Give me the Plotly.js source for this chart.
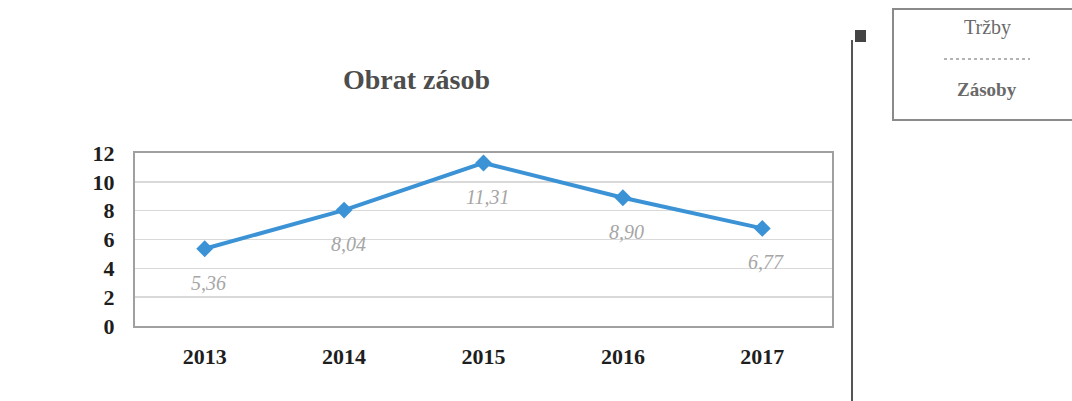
<!DOCTYPE html>
<html>
<head>
<meta charset="utf-8">
<script src="https://cdn.plot.ly/plotly-3.0.1.min.js"></script>
<style>html,body{margin:0;padding:0;background:#fff;}#chart{width:1072px;height:401px;}</style>
</head>
<body>
<div id="chart"></div>
<script>
var years = ['2013', '2014', '2015', '2016', '2017'];
var obratZasob = [5.36, 8.04, 11.31, 8.90, 6.77];
var valueLabels = ['5,36', '8,04', '11,31', '8,90', '6,77'];
var yTicks = [0, 2, 4, 6, 8, 10, 12];
var chartTitle = 'Obrat zásob';
var formulaTop = 'Tržby';
var formulaBottom = 'Zásoby';

var L = 135, R = 240, T = 153, B = 75, W = 1072, H = 401;
var pw = W - L - R, ph = H - T - B;
function px(x) { return (x - L) / pw; }
function py(y) { return (H - B - y) / ph; }

var serif = 'Liberation Serif, DejaVu Serif, serif';

var trace = {
  x: years, y: obratZasob, type: 'scatter', mode: 'lines+markers',
  line: {color: '#3b93d6', width: 4},
  marker: {symbol: 'diamond', size: 13, color: '#3b93d6'},
  hoverinfo: 'skip'
};

var annotations = years.map(function (yr, i) {
  return {
    x: i, y: obratZasob[i], xref: 'x', yref: 'y', text: '<i>' + valueLabels[i] + '</i>',
    showarrow: false, yshift: -34, xshift: 4, xanchor: 'center', yanchor: 'middle',
    font: {family: serif, size: 20, color: '#a6a6a6'}
  };
});

annotations.push({
  xref: 'paper', yref: 'paper', x: px(416), y: py(80), xanchor: 'center', yanchor: 'middle',
  text: '<b>' + chartTitle + '</b>', showarrow: false,
  font: {family: serif, size: 28, color: '#4d4d4d'}
});
annotations.push({
  xref: 'paper', yref: 'paper', x: px(987), y: py(27), xanchor: 'center', yanchor: 'middle',
  text: formulaTop, showarrow: false,
  font: {family: serif, size: 20, color: '#6a6a6a'}
});
annotations.push({
  xref: 'paper', yref: 'paper', x: px(987), y: py(89), xanchor: 'center', yanchor: 'middle',
  text: '<b>' + formulaBottom + '</b>', showarrow: false,
  font: {family: serif, size: 19, color: '#6a6a6a'}
});

var shapes = [
  {type: 'rect', xref: 'paper', yref: 'paper', x0: px(893), x1: px(1080), y0: py(120), y1: py(9),
    line: {color: '#8a8a8a', width: 2}},
  {type: 'line', xref: 'paper', yref: 'paper', x0: px(944), x1: px(1030), y0: py(59), y1: py(59),
    line: {color: '#9a9a9a', width: 1.5, dash: 'dot'}},
  {type: 'line', xref: 'paper', yref: 'paper', x0: px(852), x1: px(852), y0: py(40), y1: py(405),
    line: {color: '#555555', width: 2}},
  {type: 'rect', xref: 'paper', yref: 'paper', x0: px(855), x1: px(866), y0: py(42), y1: py(30),
    line: {width: 0}, fillcolor: '#444444'}
];

var layout = {
  width: W, height: H,
  margin: {l: L, r: R, t: T, b: B},
  paper_bgcolor: '#ffffff', plot_bgcolor: '#ffffff',
  showlegend: false,
  xaxis: {
    type: 'category', range: [-0.5, 4.5],
    showline: true, mirror: true, linecolor: '#a0a0a0', linewidth: 2,
    showgrid: false, ticks: '',
    tickfont: {family: serif, size: 22, color: '#1e1e1e', weight: 'bold'},
    ticklabelstandoff: 10
  },
  yaxis: {
    range: [0, 12], tickvals: yTicks, ticktext: yTicks.map(String),
    showline: true, mirror: true, linecolor: '#a0a0a0', linewidth: 2,
    showgrid: true, gridcolor: '#d9d9d9', gridwidth: 1.5, zeroline: false, ticks: '',
    tickfont: {family: serif, size: 22, color: '#1e1e1e', weight: 'bold'},
    ticklabelstandoff: 14
  },
  annotations: annotations,
  shapes: shapes
};

Plotly.newPlot('chart', [trace], layout, {staticPlot: true, displayModeBar: false});
</script>
</body>
</html>
